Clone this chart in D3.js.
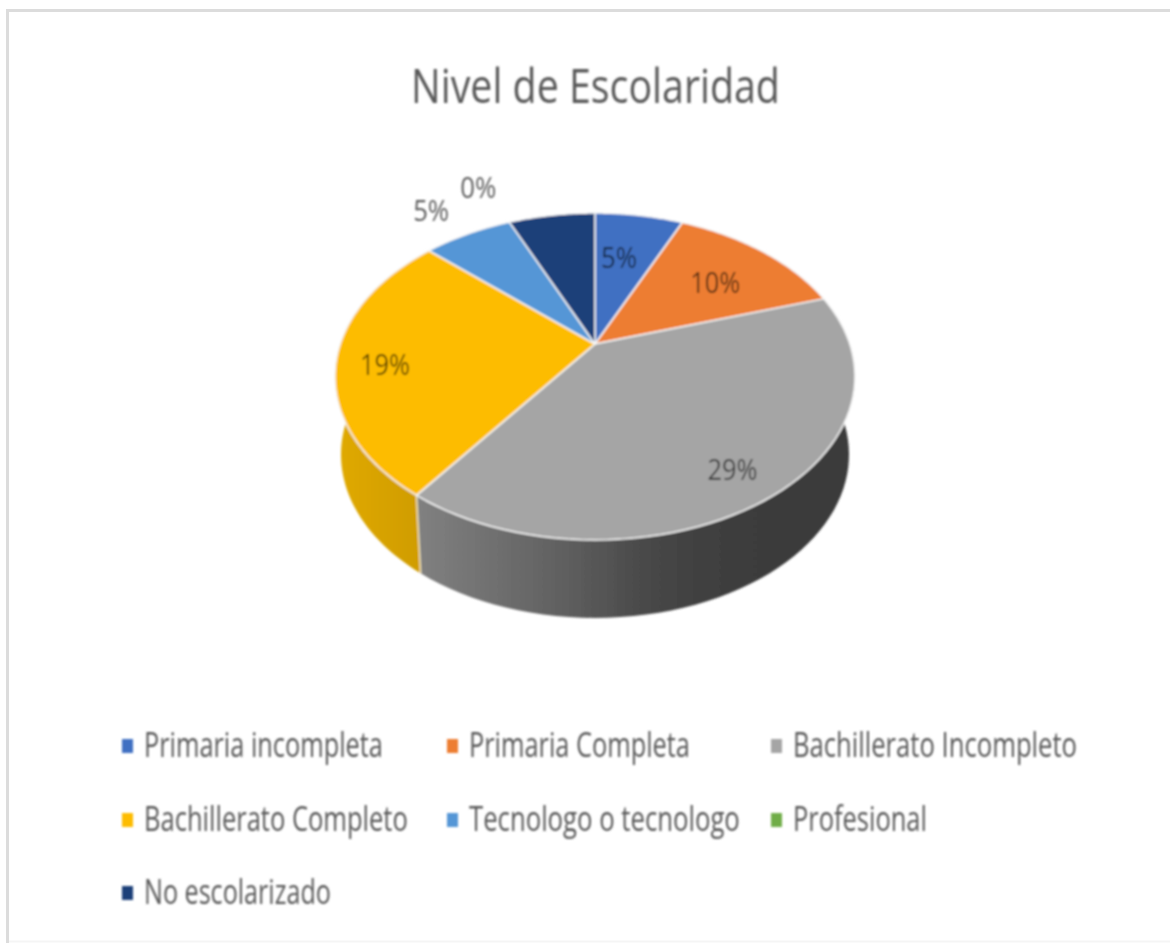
<!DOCTYPE html>
<html>
<head>
<meta charset="utf-8">
<script src="https://cdn.jsdelivr.net/npm/d3@7"></script>
<style>
    body { margin: 0; background: #fff; }
    svg { display: block; }
    text { font-family: "Open Sans", Roboto, sans-serif; }
</style>
</head>
<body>
<div id="chart"></div>
<script>
const categories = ["Primaria incompleta", "Primaria Completa", "Bachillerato Incompleto", "Bachillerato Completo", "Tecnologo o tecnologo", "Profesional", "No escolarizado"];
const sliceValues = [4.85, 9.8, 29.15, 19.55, 4.9, 0, 4.75];
const percentLabels = ["5%", "10%", "29%", "19%", "5%", "0%", null]; // printed labels, navy has none
const colors = ["#3f70c2", "#ed7d31", "#a5a5a5", "#fdbc00", "#5496d6", "#70ad47", "#1f4079"];

const width = 1170, height = 943;

// perspective of the pie top
const cx = 595, cy = 344, P = 254.8, R = 157, k = 0.1988;
// how the bottom rim relates to the top rim
const bottomX = 0.977, bottomShift = 78;

// label radius and nudge, per slice
const labelRadius = [0.75, 0.75, 0.75, 0.75, 1.25, 1.25, 0.75];
const labelNudge = [[-10.5, 13.5], [-9, 10], [10, 16], [-17, 8], [-10, -1], [-13.6, -10.5], [0, 0]];

// legend layout
const legendCols = [122, 447, 771];
const legendRows = [746, 820, 893];
const legendWidths = [239, 221, 284, 264, 271, 134, 187];

const svg = d3.select("#chart").append("svg")
    .attr("width", width)
    .attr("height", height);

const defs = svg.append("defs");
defs.append("filter").attr("id", "soft")
    .attr("x", "-5%").attr("y", "-5%").attr("width", "110%").attr("height", "110%")
    .append("feGaussianBlur").attr("stdDeviation", 0.8);

const grayWall = defs.append("linearGradient").attr("id", "gray-wall")
    .attr("gradientUnits", "userSpaceOnUse")
    .attr("x1", 420).attr("x2", 850).attr("y1", 0).attr("y2", 0);
[[0, "#808080"], [0.3, "#636363"], [0.55, "#464646"], [0.75, "#3c3c3c"], [1, "#3a3a3a"]].forEach(s => {
    grayWall.append("stop").attr("offset", s[0]).attr("stop-color", s[1]);
});
const yellowWall = defs.append("linearGradient").attr("id", "yellow-wall")
    .attr("gradientUnits", "userSpaceOnUse")
    .attr("x1", 337).attr("x2", 423).attr("y1", 0).attr("y2", 0);
[[0, "#e0a900"], [1, "#cf9c00"]].forEach(s => {
    yellowWall.append("stop").attr("offset", s[0]).attr("stop-color", s[1]);
});

// frame, right side runs off the page and the bottom is barely there
svg.append("line").attr("x1", 7.5).attr("x2", width).attr("y1", 10.5).attr("y2", 10.5)
    .attr("stroke", "#dcdcdc").attr("stroke-width", 3);
svg.append("line").attr("x1", 7.5).attr("x2", 7.5).attr("y1", 9).attr("y2", height)
    .attr("stroke", "#dcdcdc").attr("stroke-width", 3);
svg.append("line").attr("x1", 9).attr("x2", width).attr("y1", 941.5).attr("y2", 941.5)
    .attr("stroke", "#f5f5f5").attr("stroke-width", 2);

const g = svg.append("g").attr("filter", "url(#soft)");

// angle 0 is up, t is the radius on the unit circle
function project(a, t) {
    const s = Math.sin(a) * t, c = Math.cos(a) * t;
    const d = 1 + k * c;
    return [cx + P * s / d, cy - R * c / d];
}
function projectBottom(a) {
    const p = project(a, 1);
    return [cx + (p[0] - cx) * bottomX, p[1] + bottomShift];
}

// the source font is much narrower, so squeeze each text to its measured width
function placeText(node, x, y, w) {
    const sx = w / node.getComputedTextLength();
    return `translate(${x},${y}) scale(${sx},1)`;
}

const pie = d3.pie().sort(null).value(d => d);
const arcs = pie(sliceValues);
const line = d3.line();

function rimPoints(a0, a1, fn) {
    return d3.range(0, 61).map(i => fn(a0 + (a1 - a0) * i / 60));
}

// side walls, only grey and yellow can be seen from the front
[[2, "url(#gray-wall)"], [3, "url(#yellow-wall)"]].forEach(w => {
    const d = arcs[w[0]];
    const top = rimPoints(d.startAngle, d.endAngle, a => project(a, 1));
    const bottom = rimPoints(d.endAngle, d.startAngle, projectBottom);
    g.append("path")
        .attr("d", line(top.concat(bottom)) + "Z")
        .attr("fill", w[1]);
});
// seam between the two walls
const seam = arcs[2].endAngle;
g.append("path")
    .attr("d", line([project(seam, 1), projectBottom(seam)]))
    .attr("stroke", "#f3e6c0")
    .attr("stroke-width", 1.5)
    .attr("fill", "none");

// top faces
g.selectAll("path.face")
    .data(arcs.filter(d => d.value > 0))
    .join("path")
    .attr("class", "face")
    .attr("d", d => line([[cx, cy]].concat(rimPoints(d.startAngle, d.endAngle, a => project(a, 1)))) + "Z")
    .attr("fill", d => colors[d.index])
    .attr("stroke", "#f6f6f6")
    .attr("stroke-width", 1.5)
    .attr("stroke-linejoin", "round");

// percent labels
g.selectAll("text.pct")
    .data(arcs.filter(d => percentLabels[d.index] !== null))
    .join("text")
    .attr("class", "pct")
    .attr("text-anchor", "middle")
    .attr("font-size", 30)
    .attr("fill", "#5c5c5c")
    .style("mix-blend-mode", "multiply")
    .text(d => percentLabels[d.index])
    .attr("transform", function(d) {
        const p = project((d.startAngle + d.endAngle) / 2, labelRadius[d.index]);
        const w = percentLabels[d.index].length > 2 ? 50 : 36;
        return placeText(this, p[0] + labelNudge[d.index][0], p[1] + labelNudge[d.index][1] + 11, w);
    });

// title
g.append("text")
    .attr("text-anchor", "middle")
    .attr("font-size", 48)
    .attr("fill", "#595959")
    .text("Nivel de Escolaridad")
    .attr("transform", function() { return placeText(this, 595.5, 103, 369); });

// legend
const legend = g.selectAll("g.legend-item")
    .data(categories)
    .join("g")
    .attr("class", "legend-item")
    .attr("transform", (d, i) => `translate(${legendCols[i % 3]},${legendRows[Math.floor(i / 3)]})`);

legend.append("rect")
    .attr("x", 0).attr("y", -7)
    .attr("width", 11).attr("height", 14)
    .attr("fill", (d, i) => colors[i]);

legend.append("text")
    .attr("font-size", 34)
    .attr("fill", "#595959")
    .text(d => d)
    .attr("transform", function(d, i) { return placeText(this, 22, 11, legendWidths[i]); });
</script>
</body>
</html>
